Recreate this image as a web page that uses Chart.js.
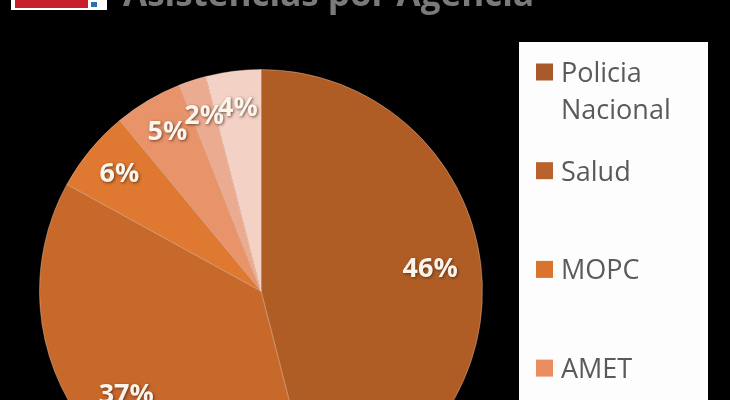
<!DOCTYPE html>
<html>
<head>
<meta charset="utf-8">
<script src="https://cdn.jsdelivr.net/npm/chart.js@4.4.1/dist/chart.umd.min.js"></script>
<style>
  html, body { margin: 0; padding: 0; background: #000; overflow: hidden; width: 730px; height: 400px; }
  #wrap { position: absolute; left: 0; top: 0; width: 730px; height: 530px; }
</style>
</head>
<body>
<div id="wrap"><canvas id="c" width="730" height="530"></canvas></div>
<script>
// ---- data ----
const categories = [["Policia", "Nacional"], "Salud", "MOPC", "AMET", "Otros", "Otras"];
const percentages = [46, 37, 6, 5, 2, 4];
const sliceColors = ["#B05D25", "#C8692C", "#DF7831", "#E8936A", "#EBAB90", "#F3D1C5"];
const legendColors = ["#A95A2A", "#B8632E", "#D9732D", "#EA8E62", "#EBAB90", "#F3D1C5"];
const titleText = "Asistencias por Agencia";

const overlayPlugin = {
  id: 'overlay',
  afterDraw(chart) {
    const ctx = chart.ctx;
    ctx.save();
    // Logo + title (cut off at the top like the reference)
    ctx.fillStyle = '#ffffff';
    ctx.fillRect(11, 0, 96, 10);
    ctx.fillStyle = '#c8202a';
    ctx.fillRect(15, 0, 73, 8);
    ctx.fillStyle = '#2a6fb0';
    ctx.fillRect(91, 2, 6, 5);
    ctx.font = 'bold 35px "Open Sans", sans-serif';
    ctx.fillStyle = '#7a7a7a';
    ctx.textBaseline = 'alphabetic';
    ctx.textAlign = 'left';
    ctx.fillText(titleText, 123, 6);

    // Data labels
    const meta = chart.getDatasetMeta(0);
    ctx.font = 'bold 27px "Open Sans", sans-serif';
    ctx.textAlign = 'center';
    ctx.textBaseline = 'middle';
    meta.data.forEach((arc, i) => {
      const p = arc.getProps(['x', 'y', 'startAngle', 'endAngle', 'outerRadius'], true);
      const mid = (p.startAngle + p.endAngle) / 2;
      const f = percentages[i] >= 10 ? 0.77 : 0.83;
      const x = p.x + Math.cos(mid) * p.outerRadius * f;
      const y = p.y + Math.sin(mid) * p.outerRadius * f;
      ctx.shadowColor = 'rgba(60,30,10,0.7)';
      ctx.shadowBlur = 3;
      ctx.shadowOffsetX = 1;
      ctx.shadowOffsetY = 1;
      ctx.fillStyle = '#fdf4ec';
      ctx.fillText(percentages[i] + '%', x, y);
    });
    ctx.shadowColor = 'transparent';

    // Legend box
    ctx.fillStyle = '#fdfdfd';
    ctx.fillRect(519, 42, 189, 500);
    ctx.font = '27px "Open Sans", sans-serif';
    ctx.textAlign = 'left';
    ctx.textBaseline = 'alphabetic';
    const step = 98.7;
    categories.forEach((lab, i) => {
      const cyS = 72 + i * step;
      ctx.fillStyle = legendColors[i];
      ctx.fillRect(536, cyS - 8.5, 17, 17);
      ctx.fillStyle = '#5a5a5a';
      const lines = Array.isArray(lab) ? lab : [lab];
      lines.forEach((ln, j) => {
        ctx.fillText(ln, 561, cyS + 10 + j * 37);
      });
    });
    ctx.restore();
  }
};

new Chart(document.getElementById('c'), {
  type: 'pie',
  data: {
    labels: categories,
    datasets: [{
      data: percentages,
      backgroundColor: sliceColors,
      borderColor: 'rgba(255,225,205,0.35)',
      borderWidth: 1,
      hoverOffset: 0,
      offset: 0
    }]
  },
  options: {
    responsive: false,
    animation: false,
    devicePixelRatio: 1,
    layout: { padding: { left: 39, right: 247, top: 69, bottom: 17 } },
    plugins: {
      legend: { display: false },
      title: { display: false },
      tooltip: { enabled: false }
    }
  },
  plugins: [overlayPlugin]
});
</script>
</body>
</html>
